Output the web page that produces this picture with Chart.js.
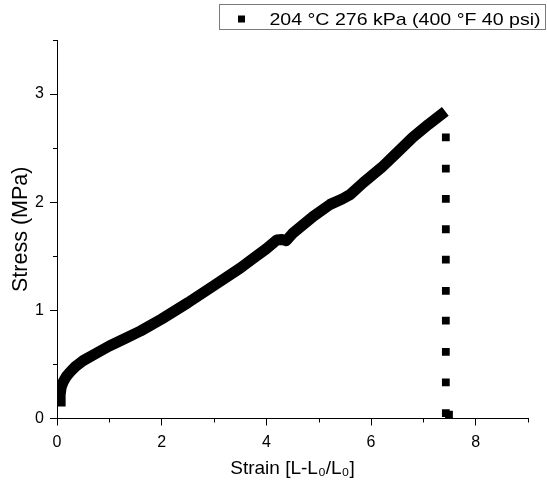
<!DOCTYPE html>
<html><head><meta charset="utf-8">
<script src="https://cdn.jsdelivr.net/npm/chart.js@4.4.0/dist/chart.umd.min.js"></script>
<style>html,body{margin:0;padding:0;background:#fff;}</style>
</head><body>
<canvas id="c" width="547" height="484" style="width:547px;height:484px;display:block"></canvas>
<script>
const seriesLabel = '204 °C 276 kPa (400 °F 40 psi)';
const xTitle = 'Strain [L-L₀/L₀]';
const yTitle = 'Stress (MPa)';
const xLabelled = [0, 2, 4, 6, 8];
const yLabelled = [0, 1, 2, 3];
const xMinor = [1, 3, 5, 7, 9];
const yMinor = [0.5, 1.5, 2.5, 3.5];

// continuous part of the test (strain, stress in MPa)
const curveStrain = [0.06, 0.06, 0.08, 0.12, 0.18, 0.25, 0.35, 0.5, 0.7, 1.0, 1.3, 1.6, 2.0, 2.5, 3.0, 3.5, 3.75, 4.0, 4.2, 4.3, 4.38, 4.5, 4.65, 4.9, 5.22, 5.45, 5.6, 5.85, 6.2, 6.5, 6.8, 7.1, 7.42];
const curveStress = [0.11, 0.22, 0.29, 0.34, 0.39, 0.43, 0.48, 0.535, 0.59, 0.67, 0.74, 0.81, 0.92, 1.07, 1.23, 1.39, 1.48, 1.57, 1.65, 1.655, 1.645, 1.71, 1.77, 1.87, 1.98, 2.03, 2.07, 2.18, 2.32, 2.46, 2.60, 2.72, 2.84];
// failure: sparse points dropping to zero
const dropStrain = [7.43, 7.43, 7.43, 7.43, 7.43, 7.43, 7.43, 7.43, 7.43, 7.43, 7.49];
const dropStress = [2.60, 2.31, 2.03, 1.75, 1.47, 1.18, 0.905, 0.616, 0.335, 0.05, 0.035];

const pts = curveStrain.map((x, i) => ({x, y: curveStress[i]}))
  .concat(dropStrain.map((x, i) => ({x, y: dropStress[i]})));
const nCurve = curveStrain.length;

const FONT = "'Liberation Sans', Arial, sans-serif";

const decor = {
  id: 'decor',
  afterDraw(chart) {
    const ctx = chart.ctx, a = chart.chartArea;
    const xs = chart.scales.x, ys = chart.scales.y;
    ctx.save();
    ctx.strokeStyle = '#000';
    ctx.lineWidth = 1;
    ctx.beginPath();
    xMinor.forEach(v => { const p = Math.round(xs.getPixelForValue(v)) + 0.5; ctx.moveTo(p, a.bottom); ctx.lineTo(p, a.bottom + 4); });
    yMinor.forEach(v => { const p = Math.round(ys.getPixelForValue(v)) + 0.5; ctx.moveTo(a.left, p); ctx.lineTo(a.left - 4, p); });
    ctx.stroke();
    // legend box
    ctx.strokeStyle = '#7a7a7a';
    ctx.strokeRect(219.5, 4.5, 326, 25);
    ctx.fillStyle = '#000';
    ctx.fillRect(238, 15.5, 7, 7);
    ctx.font = '17px ' + FONT;
    ctx.textBaseline = 'middle';
    ctx.textAlign = 'left';
    ctx.translate(269.5, 20.5);
    ctx.scale(1.15, 1);
    ctx.fillText(chart.data.datasets[0].label, 0, 0);
    ctx.restore();
  }
};

new Chart(document.getElementById('c'), {
  type: 'scatter',
  data: { datasets: [{
    label: seriesLabel,
    data: pts,
    showLine: true,
    borderColor: '#000',
    backgroundColor: '#000',
    borderWidth: 11,
    borderJoinStyle: 'round',
    segment: { borderColor: c => c.p1DataIndex >= nCurve ? 'rgba(0,0,0,0)' : '#000' },
    pointStyle: 'rect',
    pointRadius: c => c.dataIndex >= nCurve ? 5.5 : 0,
    pointBorderWidth: 0,
    clip: 0
  }]},
  options: {
    responsive: false,
    animation: false,
    devicePixelRatio: 1,
    layout: { padding: { top: 40, right: 19, left: 0, bottom: 0 } },
    plugins: { legend: { display: false }, tooltip: { enabled: false } },
    scales: {
      x: {
        type: 'linear', min: 0, max: 9,
        afterFit: s => { s.height = 65.5; },
        border: { display: true, color: '#000', width: 1 },
        grid: { drawOnChartArea: false, drawTicks: true, tickLength: 7,
          tickColor: c => (c.tick && xLabelled.includes(c.tick.value)) ? '#000' : 'rgba(0,0,0,0)' },
        ticks: { stepSize: 1, autoSkip: false, maxRotation: 0, padding: 7, color: '#000',
          font: { family: FONT, size: 16 },
          callback: v => xLabelled.includes(v) ? String(v) : '' },
        title: { display: true, text: xTitle, color: '#000', font: { family: FONT, size: 19 },
          padding: { top: 0, bottom: 4 } }
      },
      y: {
        type: 'linear', min: 0, max: 3.5,
        afterFit: s => { s.width = 57; },
        border: { display: true, color: '#000', width: 1 },
        grid: { drawOnChartArea: false, drawTicks: true, tickLength: 7,
          tickColor: c => (c.tick && yLabelled.includes(c.tick.value)) ? '#000' : 'rgba(0,0,0,0)' },
        ticks: { stepSize: 0.5, autoSkip: false, padding: 6, color: '#000',
          font: { family: FONT, size: 16 },
          callback: v => yLabelled.includes(v) ? String(v) : '' },
        title: { display: true, text: yTitle, color: '#000', font: { family: FONT, size: 21.5 },
          padding: { top: 8, bottom: 0 } }
      }
    }
  },
  plugins: [decor]
});
</script>
</body></html>
